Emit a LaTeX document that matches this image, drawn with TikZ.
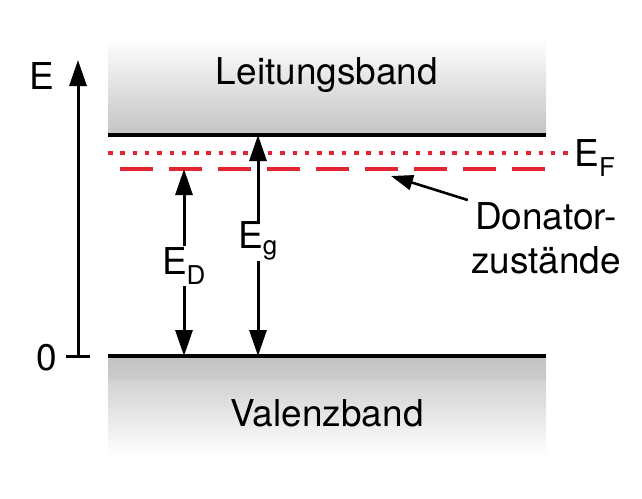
\documentclass[tikz,border=0pt]{standalone}
\usepackage{fontspec}
\setmainfont{TeX Gyre Heros}
\definecolor{fermired}{RGB}{225, 35, 50}
\definecolor{bandgray}{RGB}{195, 195, 195}
\usetikzlibrary{arrows.meta, positioning, calc}
\tikzset{
  lbl/.style={font=\fontsize{37}{44}\selectfont, inner sep=1pt},
  bandline/.style={line width=3.6pt},
  arr/.style={line width=3pt, -{Triangle[length=26pt, width=17pt]}}
}
\begin{document}
\begin{tikzpicture}[x=1pt, y=-1pt]
  \useasboundingbox (0,0) rectangle (642,498);
  % bands
  \shade[top color=white, bottom color=bandgray] (108,38) rectangle (546,135);
  \shade[top color=bandgray, bottom color=bandgray!85] (108,356) rectangle (546,380);
  \shade[top color=bandgray!75, bottom color=white] (108,380) rectangle (546,456);
  \coordinate (cbl) at (108,135);
  \coordinate (cbr) at (546,135);
  \coordinate (vbl) at (108,356);
  \coordinate (vbr) at (546,356);
  \draw[bandline] (cbl) -- (cbr);
  \draw[bandline] (vbl) -- (vbr);
  \node[lbl] (lband) at (327,75) {Leitungsband};
  \node[lbl] (vband) at (327,413) {Valenzband};
  % energy axis
  \coordinate (axbot) at (78,356);
  \coordinate (axtop) at (78,60);
  \coordinate (tickl) at (66,356);
  \coordinate (tickr) at (90,356);
  \draw[arr] (axbot) -- (axtop);
  \draw[line width=3pt] (tickl) -- (tickr);
  \node[lbl] (elabel) at (42,76) {E};
  \node[lbl] (zero) at (47,358) {0};
  % Fermi level and donor states
  \coordinate (efl) at (108,153);
  \coordinate (efr) at (571,153);
  \coordinate (edl) at (120,169);
  \coordinate (edr) at (546,169);
  \draw[fermired, line width=3.4pt, dash pattern=on 4.5pt off 7.8pt] (efl) -- (efr);
  \draw[fermired, line width=3.4pt, dash pattern=on 33pt off 16pt] (edl) -- (edr);
  \node[lbl] (ef) at (595,158) {E\textsubscript{F}};
  % E_D and E_g
  \coordinate (edtop) at (184,169);
  \coordinate (edbot) at (184,356);
  \node[lbl] (ed) at (184,266) {E\textsubscript{D}};
  \draw[arr] (ed) -- (edtop);
  \draw[arr] (ed) -- (edbot);
  \coordinate (egtop) at (258,135);
  \coordinate (egbot) at (258,356);
  \node[lbl] (eg) at (258,241) {E\textsubscript{g}};
  \draw[arr] (eg) -- (egtop);
  \draw[arr] (eg) -- (egbot);
  % donor label
  \node[lbl, align=center] (donor) at (546,238) {Donator-\\zustände};
  \coordinate (dhead) at (391,176);
  \draw[line width=2.6pt, -{Triangle[length=22pt, width=15pt]}] (donor.north west) ++(-2,-1) -- (dhead);
\end{tikzpicture}
\end{document}
